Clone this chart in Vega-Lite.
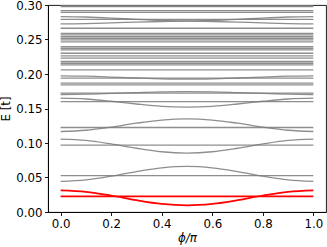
{
  "$schema": "https://vega.github.io/schema/vega-lite/v6.json",
  "autosize": "none",
  "width": 278,
  "height": 207,
  "padding": {"left": 48, "top": 5, "right": 1, "bottom": 35},
  "config": {
    "view": {"stroke": "#000", "strokeWidth": 0.9},
    "axis": {
      "domainColor": "#000", "domainWidth": 0.9, "tickColor": "#000", "tickWidth": 0.9, "tickSize": 3.5,
      "labelColor": "#000", "labelFont": "DejaVu Sans", "labelFontSize": 11.8, "labelPadding": 2.5,
      "titleColor": "#000", "titleFont": "DejaVu Sans", "titleFontSize": 11.8, "titleFontWeight": "normal",
      "grid": false
    }
  },
  "datasets": {
    "gray": [
      {"id":"c1","x":0,"y":0.0444},{"id":"c1","x":0.1,"y":0.0465},{"id":"c1","x":0.2,"y":0.0519},{"id":"c1","x":0.3,"y":0.0586},{"id":"c1","x":0.4,"y":0.0640},{"id":"c1","x":0.5,"y":0.0661},{"id":"c1","x":0.6,"y":0.0640},{"id":"c1","x":0.7,"y":0.0586},{"id":"c1","x":0.8,"y":0.0519},{"id":"c1","x":0.9,"y":0.0465},{"id":"c1","x":1,"y":0.0444},
      {"id":"c2","x":0,"y":0.1056},{"id":"c2","x":0.1,"y":0.1037},{"id":"c2","x":0.2,"y":0.0986},{"id":"c2","x":0.3,"y":0.0924},{"id":"c2","x":0.4,"y":0.0873},{"id":"c2","x":0.5,"y":0.0854},{"id":"c2","x":0.6,"y":0.0873},{"id":"c2","x":0.7,"y":0.0924},{"id":"c2","x":0.8,"y":0.0986},{"id":"c2","x":0.9,"y":0.1037},{"id":"c2","x":1,"y":0.1056},
      {"id":"c3","x":0,"y":0.1167},{"id":"c3","x":0.1,"y":0.1185},{"id":"c3","x":0.2,"y":0.1230},{"id":"c3","x":0.3,"y":0.1287},{"id":"c3","x":0.4,"y":0.1333},{"id":"c3","x":0.5,"y":0.1350},{"id":"c3","x":0.6,"y":0.1333},{"id":"c3","x":0.7,"y":0.1287},{"id":"c3","x":0.8,"y":0.1230},{"id":"c3","x":0.9,"y":0.1185},{"id":"c3","x":1,"y":0.1167},
      {"id":"c4","x":0,"y":0.1650},{"id":"c4","x":0.1,"y":0.1638},{"id":"c4","x":0.2,"y":0.1605},{"id":"c4","x":0.3,"y":0.1565},{"id":"c4","x":0.4,"y":0.1532},{"id":"c4","x":0.5,"y":0.1520},{"id":"c4","x":0.6,"y":0.1532},{"id":"c4","x":0.7,"y":0.1565},{"id":"c4","x":0.8,"y":0.1605},{"id":"c4","x":0.9,"y":0.1638},{"id":"c4","x":1,"y":0.1650},
      {"id":"c5","x":0,"y":0.1703},{"id":"c5","x":0.1,"y":0.1707},{"id":"c5","x":0.2,"y":0.1718},{"id":"c5","x":0.3,"y":0.1730},{"id":"c5","x":0.4,"y":0.1741},{"id":"c5","x":0.5,"y":0.1745},{"id":"c5","x":0.6,"y":0.1741},{"id":"c5","x":0.7,"y":0.1730},{"id":"c5","x":0.8,"y":0.1718},{"id":"c5","x":0.9,"y":0.1707},{"id":"c5","x":1,"y":0.1703},
      {"id":"c6","x":0,"y":0.1973},{"id":"c6","x":0.1,"y":0.1968},{"id":"c6","x":0.2,"y":0.1956},{"id":"c6","x":0.3,"y":0.1942},{"id":"c6","x":0.4,"y":0.1930},{"id":"c6","x":0.5,"y":0.1925},{"id":"c6","x":0.6,"y":0.1930},{"id":"c6","x":0.7,"y":0.1942},{"id":"c6","x":0.8,"y":0.1956},{"id":"c6","x":0.9,"y":0.1968},{"id":"c6","x":1,"y":0.1973},
      {"id":"c7","x":0,"y":0.2832},{"id":"c7","x":0.1,"y":0.2826},{"id":"c7","x":0.2,"y":0.2811},{"id":"c7","x":0.3,"y":0.2791},{"id":"c7","x":0.4,"y":0.2776},{"id":"c7","x":0.5,"y":0.2770},{"id":"c7","x":0.6,"y":0.2776},{"id":"c7","x":0.7,"y":0.2791},{"id":"c7","x":0.8,"y":0.2811},{"id":"c7","x":0.9,"y":0.2826},{"id":"c7","x":1,"y":0.2832},
      {"id":"c8","x":0,"y":0.2726},{"id":"c8","x":0.1,"y":0.2730},{"id":"c8","x":0.2,"y":0.2740},{"id":"c8","x":0.3,"y":0.2752},{"id":"c8","x":0.4,"y":0.2761},{"id":"c8","x":0.5,"y":0.2765},{"id":"c8","x":0.6,"y":0.2761},{"id":"c8","x":0.7,"y":0.2752},{"id":"c8","x":0.8,"y":0.2740},{"id":"c8","x":0.9,"y":0.2730},{"id":"c8","x":1,"y":0.2726},
      {"id":"f01","x":0,"y":0.0526},{"id":"f01","x":1,"y":0.0526},
      {"id":"f02","x":0,"y":0.0970},{"id":"f02","x":1,"y":0.0970},
      {"id":"f03","x":0,"y":0.1225},{"id":"f03","x":1,"y":0.1225},
      {"id":"f04","x":0,"y":0.1600},{"id":"f04","x":1,"y":0.1600},
      {"id":"f05","x":0,"y":0.1722},{"id":"f05","x":1,"y":0.1722},
      {"id":"f06","x":0,"y":0.1843},{"id":"f06","x":1,"y":0.1843},
      {"id":"f07","x":0,"y":0.1867},{"id":"f07","x":1,"y":0.1867},
      {"id":"f08","x":0,"y":0.1939},{"id":"f08","x":1,"y":0.1939},
      {"id":"f09","x":0,"y":0.2060},{"id":"f09","x":1,"y":0.2060},
      {"id":"f10","x":0,"y":0.2132},{"id":"f10","x":1,"y":0.2132},
      {"id":"f11","x":0,"y":0.2156},{"id":"f11","x":1,"y":0.2156},
      {"id":"f12","x":0,"y":0.2181},{"id":"f12","x":1,"y":0.2181},
      {"id":"f13","x":0,"y":0.2229},{"id":"f13","x":1,"y":0.2229},
      {"id":"f14","x":0,"y":0.2262},{"id":"f14","x":1,"y":0.2262},
      {"id":"f15","x":0,"y":0.2301},{"id":"f15","x":1,"y":0.2301},
      {"id":"f16","x":0,"y":0.2349},{"id":"f16","x":1,"y":0.2349},
      {"id":"f17","x":0,"y":0.2373},{"id":"f17","x":1,"y":0.2373},
      {"id":"f18","x":0,"y":0.2397},{"id":"f18","x":1,"y":0.2397},
      {"id":"f19","x":0,"y":0.2465},{"id":"f19","x":1,"y":0.2465},
      {"id":"f20","x":0,"y":0.2494},{"id":"f20","x":1,"y":0.2494},
      {"id":"f21","x":0,"y":0.2518},{"id":"f21","x":1,"y":0.2518},
      {"id":"f22","x":0,"y":0.2542},{"id":"f22","x":1,"y":0.2542},
      {"id":"f23","x":0,"y":0.2566},{"id":"f23","x":1,"y":0.2566},
      {"id":"f24","x":0,"y":0.2590},{"id":"f24","x":1,"y":0.2590},
      {"id":"f25","x":0,"y":0.2663},{"id":"f25","x":1,"y":0.2663},
      {"id":"f26","x":0,"y":0.2793},{"id":"f26","x":1,"y":0.2793},
      {"id":"f27","x":0,"y":0.2894},{"id":"f27","x":1,"y":0.2894},
      {"id":"f28","x":0,"y":0.2918},{"id":"f28","x":1,"y":0.2918},
      {"id":"f29","x":0,"y":0.2976},{"id":"f29","x":1,"y":0.2976},
      {"id":"f30","x":0,"y":0.2990},{"id":"f30","x":1,"y":0.2990}
    ],
    "red": [
      {"id":"r1","x":0,"y":0.0314},{"id":"r1","x":0.1,"y":0.0293},{"id":"r1","x":0.2,"y":0.0239},{"id":"r1","x":0.3,"y":0.0171},{"id":"r1","x":0.4,"y":0.0117},{"id":"r1","x":0.5,"y":0.0096},{"id":"r1","x":0.6,"y":0.0117},{"id":"r1","x":0.7,"y":0.0171},{"id":"r1","x":0.8,"y":0.0239},{"id":"r1","x":0.9,"y":0.0293},{"id":"r1","x":1,"y":0.0314},
      {"id":"r2","x":0,"y":0.0227},{"id":"r2","x":1,"y":0.0227}
    ]
  },
  "encoding": {
    "x": {"field": "x", "type": "quantitative", "scale": {"domain": [-0.05, 1.05], "nice": false, "zero": false},
      "axis": {"values": [0, 0.2, 0.4, 0.6, 0.8, 1.0], "format": ".1f", "title": "ϕ/π", "titleFontStyle": "italic", "titlePadding": 3}},
    "y": {"field": "y", "type": "quantitative", "scale": {"domain": [0, 0.3], "nice": false},
      "axis": {"values": [0, 0.05, 0.1, 0.15, 0.2, 0.25, 0.3], "format": ".2f", "title": "E [t]", "titlePadding": 4}},
    "detail": {"field": "id"}
  },
  "layer": [
    {"data": {"name": "gray"}, "mark": {"type": "line", "color": "#7a7a7a", "opacity": 0.85, "strokeWidth": 1.3, "interpolate": "monotone", "clip": true}},
    {"data": {"name": "red"}, "mark": {"type": "line", "color": "#ff0000", "strokeWidth": 1.7, "interpolate": "monotone"}}
  ]
}
